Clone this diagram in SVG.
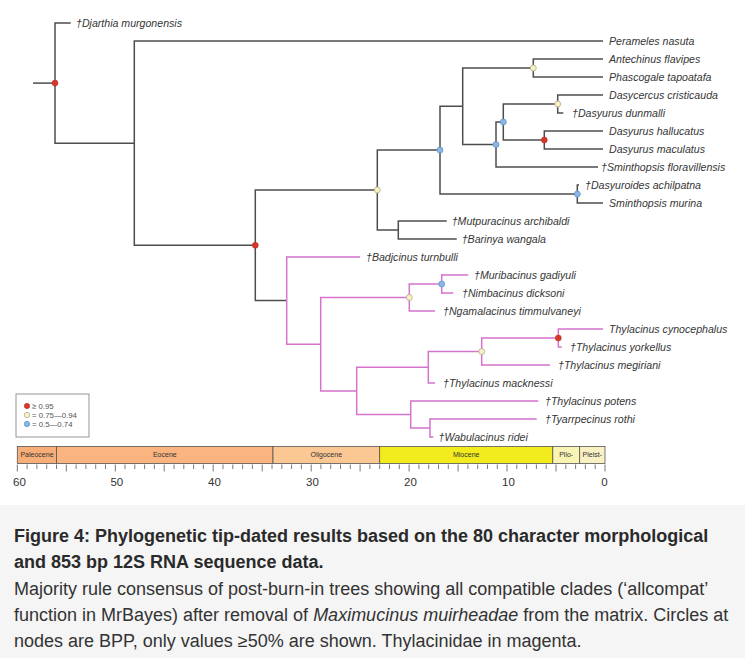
<svg xmlns="http://www.w3.org/2000/svg" width="745" height="658" viewBox="0 0 745 658">
<style>
.br{fill:none;stroke:#4d4d4d;stroke-width:1.5;stroke-linejoin:miter}
.mg{fill:none;stroke:#d673cc;stroke-width:1.5}
.tip{font-family:"Liberation Sans",Arial,sans-serif;font-style:italic;font-size:10.6px;fill:#363636}
.red{fill:#d8362a;stroke:#b52a20;stroke-width:0.5}
.yel{fill:#f5f2c8;stroke:#a9a57a;stroke-width:0.7}
.blu{fill:#88b7e6;stroke:#5f8fc2;stroke-width:0.7}
.leg{font-family:"Liberation Sans",Arial,sans-serif;font-size:7.8px;fill:#555}
.ep{font-family:"Liberation Sans",Arial,sans-serif;font-size:7px;fill:#333;text-anchor:middle}
.ax{font-family:"Liberation Sans",Arial,sans-serif;font-size:11.5px;fill:#333;text-anchor:middle}
.cap{font-family:"Liberation Sans",Arial,sans-serif;font-size:18px;fill:#333}
.bd{font-weight:bold;fill:#2a2a2a}
.ep-r{stroke:#555;stroke-width:0.8}
.tk{stroke:#555;stroke-width:0.8;fill:none}
</style>
<rect x="0" y="0" width="745" height="658" fill="#ffffff"/>
<rect x="0" y="505" width="745" height="153" fill="#f5f5f5"/>

<g id="connectors">
  <path class="br" d="M33,83.1 H55"/>
  <path class="br" d="M70.7,23 H55 V143.2 H134.3"/>
  <path class="br" d="M603,41 H134.3 V245.3 H255.3"/>
  <path class="br" d="M377.3,190 H255.3 V300.6 H286.7"/>
  <path class="br" d="M440,150.1 H377.3 V230 H398.3"/>
  <path class="br" d="M462.7,106.25 H440 V194 H577.3"/>
  <path class="br" d="M533.3,68 H462.7 V144.5 H496"/>
  <path class="br" d="M603,59 H533.3 V77 H603"/>
  <path class="br" d="M503.3,122 H496 V167 H598"/>
  <path class="br" d="M557.7,104 H503.3 V140 H544.3"/>
  <path class="br" d="M603,95 H557.7 V113 H563.3"/>
  <path class="br" d="M603,131 H544.3 V149 H603"/>
  <path class="br" d="M579,185 H577.3 V203 H603"/>
  <path class="br" d="M446.7,221 H398.3 V239 H456.7"/>
  <path class="mg" d="M360,257 H286.7 V344.2 H320.7"/>
  <path class="mg" d="M409.3,297.5 H320.7 V390.9 H356.7"/>
  <path class="mg" d="M441.7,284 H409.3 V311 H435"/>
  <path class="mg" d="M468.3,275 H441.7 V293 H453.3"/>
  <path class="mg" d="M428.3,367.25 H356.7 V414.5 H410.7"/>
  <path class="mg" d="M481.7,351.5 H428.3 V383 H435"/>
  <path class="mg" d="M558.3,338 H481.7 V365 H550"/>
  <path class="mg" d="M603,329 H558.3 V347 H561.7"/>
  <path class="mg" d="M538.3,401 H410.7 V428 H430"/>
  <path class="mg" d="M536.7,419 H430 V437 H433.3"/>
</g>

<g id="support">
  <circle id="n-root" class="red" cx="55" cy="83.1" r="3"/>
  <circle id="n-I" class="red" cx="255.3" cy="245.3" r="3"/>
  <circle id="n-E" class="yel" cx="377.3" cy="190" r="3"/>
  <circle id="n-D" class="blu" cx="440" cy="150.1" r="3"/>
  <circle id="n-B" class="blu" cx="496" cy="144.5" r="3"/>
  <circle id="n-A" class="blu" cx="503.3" cy="122" r="3"/>
  <circle id="n-1" class="yel" cx="533.3" cy="68" r="3"/>
  <circle id="n-2" class="yel" cx="557.7" cy="104" r="3"/>
  <circle id="n-3" class="red" cx="544.3" cy="140" r="3"/>
  <circle id="n-4" class="blu" cx="577.3" cy="194" r="3"/>
  <circle id="n-6" class="blu" cx="441.7" cy="284" r="3"/>
  <circle id="n-7" class="yel" cx="409.3" cy="297.5" r="3"/>
  <circle id="n-8" class="red" cx="558.3" cy="338" r="3"/>
  <circle id="n-9" class="yel" cx="481.7" cy="351.5" r="3"/>
</g>

<g id="tip-djarthia"><text class="tip" x="76" y="26.6">†Djarthia murgonensis</text></g>
<g id="tip-perameles"><text class="tip" x="609" y="44.6">Perameles nasuta</text></g>
<g id="tip-antechinus"><text class="tip" x="609" y="62.6">Antechinus flavipes</text></g>
<g id="tip-phascogale"><text class="tip" x="609" y="80.6">Phascogale tapoatafa</text></g>
<g id="tip-dasycercus"><text class="tip" x="609" y="98.6">Dasycercus cristicauda</text></g>
<g id="tip-dunmalli"><text class="tip" x="572" y="116.6">†Dasyurus dunmalli</text></g>
<g id="tip-hallucatus"><text class="tip" x="609" y="134.6">Dasyurus hallucatus</text></g>
<g id="tip-maculatus"><text class="tip" x="609" y="152.6">Dasyurus maculatus</text></g>
<g id="tip-floravillensis"><text class="tip" x="601" y="170.6">†Sminthopsis floravillensis</text></g>
<g id="tip-dasyuroides"><text class="tip" x="585" y="188.6">†Dasyuroides achilpatna</text></g>
<g id="tip-murina"><text class="tip" x="609" y="206.6">Sminthopsis murina</text></g>
<g id="tip-mutpuracinus"><text class="tip" x="451.7" y="224.6">†Mutpuracinus archibaldi</text></g>
<g id="tip-barinya"><text class="tip" x="461.7" y="242.6">†Barinya wangala</text></g>
<g id="tip-badjcinus"><text class="tip" x="366" y="260.6">†Badjcinus turnbulli</text></g>
<g id="tip-muribacinus"><text class="tip" x="474" y="278.6">†Muribacinus gadiyuli</text></g>
<g id="tip-nimbacinus"><text class="tip" x="462" y="296.6">†Nimbacinus dicksoni</text></g>
<g id="tip-ngamalacinus"><text class="tip" x="443" y="314.6">†Ngamalacinus timmulvaneyi</text></g>
<g id="tip-cynocephalus"><text class="tip" x="609" y="332.6">Thylacinus cynocephalus</text></g>
<g id="tip-yorkellus"><text class="tip" x="570" y="350.6">†Thylacinus yorkellus</text></g>
<g id="tip-megiriani"><text class="tip" x="558" y="368.6">†Thylacinus megiriani</text></g>
<g id="tip-macknessi"><text class="tip" x="443" y="386.6">†Thylacinus macknessi</text></g>
<g id="tip-potens"><text class="tip" x="545" y="404.6">†Thylacinus potens</text></g>
<g id="tip-tyarrpecinus"><text class="tip" x="545" y="422.6">†Tyarrpecinus rothi</text></g>
<g id="tip-wabulacinus"><text class="tip" x="438.5" y="440.6">†Wabulacinus ridei</text></g>

<g id="legend">
  <rect x="16" y="394" width="73" height="43" fill="#ffffff" stroke="#8a8a8a" stroke-width="0.9"/>
  <circle class="red" cx="27" cy="406" r="2.7"/>
  <circle class="yel" cx="27" cy="415" r="2.7"/>
  <circle class="blu" cx="27" cy="424" r="2.7"/>
  <text class="leg" x="32" y="408.7">≥ 0.95</text>
  <text class="leg" x="32" y="417.7">= 0.75—0.94</text>
  <text class="leg" x="32" y="426.7">= 0.5—0.74</text>
</g>

<g id="timescale">
  <rect class="ep-r" x="17.3" y="446.5" width="39.2" height="17" fill="#f8ae78"/>
  <rect class="ep-r" x="56.5" y="446.5" width="216.5" height="17" fill="#f9b47f"/>
  <rect class="ep-r" x="273" y="446.5" width="106.7" height="17" fill="#fbc893"/>
  <rect class="ep-r" x="379.7" y="446.5" width="173.1" height="17" fill="#f2ec1e"/>
  <rect class="ep-r" x="552.8" y="446.5" width="26.9" height="17" fill="#f9f4b4"/>
  <rect class="ep-r" x="579.7" y="446.5" width="25.3" height="17" fill="#f9f0c4"/>
  <text class="ep" x="37" y="457">Paleocene</text>
  <text class="ep" x="164.8" y="457">Eocene</text>
  <text class="ep" x="326.3" y="457">Oligocene</text>
  <text class="ep" x="466.2" y="457">Miocene</text>
  <text class="ep" x="566.2" y="457">Plio-</text>
  <text class="ep" x="592.3" y="457">Pleist-</text>
  <path class="tk" d="M605,464.5V471.5 M595.2,464.5V469 M585.4,464.5V469 M575.6,464.5V469 M565.8,464.5V469 M556,464.5V471.5 M546.2,464.5V469 M536.4,464.5V469 M526.6,464.5V469 M516.8,464.5V469 M507,464.5V471.5 M497.3,464.5V469 M487.5,464.5V469 M477.7,464.5V469 M467.9,464.5V469 M458.1,464.5V471.5 M448.3,464.5V469 M438.5,464.5V469 M428.7,464.5V469 M418.9,464.5V469 M409.1,464.5V471.5 M399.3,464.5V469 M389.5,464.5V469 M379.7,464.5V469 M369.9,464.5V469 M360.1,464.5V471.5 M350.3,464.5V469 M340.5,464.5V469 M330.7,464.5V469 M320.9,464.5V469 M311.2,464.5V471.5 M301.4,464.5V469 M291.6,464.5V469 M281.8,464.5V469 M272,464.5V469 M262.2,464.5V471.5 M252.4,464.5V469 M242.6,464.5V469 M232.8,464.5V469 M223,464.5V469 M213.2,464.5V471.5 M203.4,464.5V469 M193.6,464.5V469 M183.8,464.5V469 M174,464.5V469 M164.2,464.5V471.5 M154.4,464.5V469 M144.6,464.5V469 M134.8,464.5V469 M125,464.5V469 M115.3,464.5V471.5 M105.5,464.5V469 M95.7,464.5V469 M85.9,464.5V469 M76.1,464.5V469 M66.3,464.5V471.5 M56.5,464.5V469 M46.7,464.5V469 M36.9,464.5V469 M27.1,464.5V469 M17.3,464.5V471.5"/>
  <text class="ax" x="19.5" y="485.5">60</text>
  <text class="ax" x="116.8" y="485.5">50</text>
  <text class="ax" x="214.5" y="485.5">40</text>
  <text class="ax" x="312.5" y="485.5">30</text>
  <text class="ax" x="410.5" y="485.5">20</text>
  <text class="ax" x="508.5" y="485.5">10</text>
  <text class="ax" x="604.5" y="485.5">0</text>
</g>

<g id="caption">
  <text class="cap bd" x="14" y="542">Figure 4: Phylogenetic tip-dated results based on the 80 character morphological</text>
  <text class="cap bd" x="14" y="568">and 853 bp 12S RNA sequence data.</text>
  <text class="cap" x="14" y="595">Majority rule consensus of post-burn-in trees showing all compatible clades (‘allcompat’</text>
  <text class="cap" x="14" y="621">function in MrBayes) after removal of <tspan font-style="italic">Maximucinus muirheadae</tspan> from the matrix. Circles at</text>
  <text class="cap" x="14" y="647">nodes are BPP, only values ≥50% are shown. Thylacinidae in magenta.</text>
</g>
</svg>
